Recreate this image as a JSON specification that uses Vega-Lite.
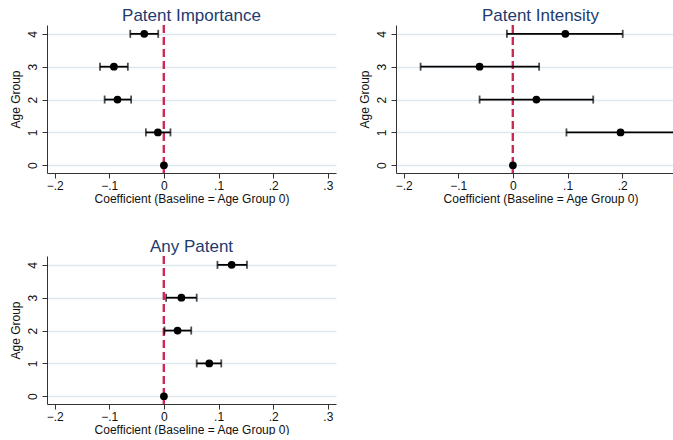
{
  "$schema": "https://vega.github.io/schema/vega-lite/v6.json",
  "background": "white",
  "padding": {"left": 9, "top": 7, "right": 0, "bottom": 0},
  "data": {"values": [
    {"panel": "Patent Importance", "group": 0, "coef": 0, "lo": 0, "hi": 0},
    {"panel": "Patent Importance", "group": 1, "coef": -0.011, "lo": -0.033, "hi": 0.012},
    {"panel": "Patent Importance", "group": 2, "coef": -0.085, "lo": -0.1085, "hi": -0.060},
    {"panel": "Patent Importance", "group": 3, "coef": -0.0915, "lo": -0.117, "hi": -0.066},
    {"panel": "Patent Importance", "group": 4, "coef": -0.036, "lo": -0.0616, "hi": -0.0104},
    {"panel": "Patent Intensity", "group": 0, "coef": 0, "lo": 0, "hi": 0},
    {"panel": "Patent Intensity", "group": 1, "coef": 0.197, "lo": 0.098, "hi": 0.296},
    {"panel": "Patent Intensity", "group": 2, "coef": 0.043, "lo": -0.061, "hi": 0.147},
    {"panel": "Patent Intensity", "group": 3, "coef": -0.061, "lo": -0.169, "hi": 0.048},
    {"panel": "Patent Intensity", "group": 4, "coef": 0.096, "lo": -0.011, "hi": 0.201},
    {"panel": "Any Patent", "group": 0, "coef": 0, "lo": 0, "hi": 0},
    {"panel": "Any Patent", "group": 1, "coef": 0.083, "lo": 0.060, "hi": 0.105},
    {"panel": "Any Patent", "group": 2, "coef": 0.025, "lo": 0.001, "hi": 0.050},
    {"panel": "Any Patent", "group": 3, "coef": 0.032, "lo": 0.004, "hi": 0.060},
    {"panel": "Any Patent", "group": 4, "coef": 0.124, "lo": 0.098, "hi": 0.152}
  ]},
  "config": {
    "font": "Liberation Sans",
    "view": {"stroke": null},
    "title": {"fontSize": 17, "fontWeight": "normal", "color": "#1e3a6e", "offset": -1, "font": "Liberation Sans"},
    "axis": {
      "domainColor": "#333333", "tickColor": "#333333", "labelColor": "#111111", "titleColor": "#111111",
      "labelFontSize": 12, "titleFontSize": 12, "titleFontWeight": "normal", "tickSize": 5,
      "labelFont": "Liberation Sans", "titleFont": "Liberation Sans", "labelOverlap": false
    },
    "axisX": {"values": [-0.2, -0.1, 0, 0.1, 0.2, 0.3], "grid": false, "titlePadding": 2, "labelPadding": 2,
              "labelExpr": "datum.value == 0 ? '0' : replace(format(datum.value, '.1f'), '0.', '.')"},
    "axisY": {"values": [0, 1, 2, 3, 4], "grid": true, "gridColor": "#dde8ee", "gridWidth": 1.5, "labelAngle": 270, "labelOverlap": false, "labelAlign": "center", "labelBaseline": "bottom", "labelPadding": 3, "titlePadding": 4}
  },
  "columns": 2,
  "spacing": {"row": 83, "column": 60},
  "bounds": "flush",
  "concat": [
    {
      "title": "Patent Importance",
      "width": 289, "height": 148,
      "transform": [{"filter": "datum.panel === 'Patent Importance'"}],
      "layer": [
        {"mark": {"type": "rule", "color": "#cc2a55", "strokeDash": [8, 4], "strokeWidth": 2}, "encoding": {"x": {"datum": 0, "type": "quantitative"}}},
        {"transform": [{"filter": "datum.group > 0"}],
         "mark": {"type": "errorbar", "ticks": {"size": 8}, "color": "black", "thickness": 1.8},
         "encoding": {"x": {"field": "lo", "type": "quantitative", "title": "Coefficient (Baseline = Age Group 0)", "axis": {"values": [-0.2, -0.1, 0, 0.1, 0.2, 0.3]}}, "x2": {"field": "hi"},
                      "y": {"field": "group", "type": "quantitative", "title": "Age Group", "axis": {"values": [0, 1, 2, 3, 4], "labelOverlap": false}}}},
        {"mark": {"type": "point", "filled": true, "color": "black", "size": 60, "opacity": 1},
         "encoding": {
           "x": {"field": "coef", "type": "quantitative", "scale": {"domain": [-0.214, 0.315], "nice": false, "zero": false},
                 "title": "Coefficient (Baseline = Age Group 0)", "axis": {"values": [-0.2, -0.1, 0, 0.1, 0.2, 0.3]}},
           "y": {"field": "group", "type": "quantitative", "scale": {"domain": [-0.236, 4.27], "nice": false, "zero": false},
                 "title": "Age Group", "axis": {"values": [0, 1, 2, 3, 4], "labelOverlap": false}}
         }}
      ]
    },
    {
      "title": "Patent Intensity",
      "width": 289, "height": 148,
      "transform": [{"filter": "datum.panel === 'Patent Intensity'"}],
      "layer": [
        {"mark": {"type": "rule", "color": "#cc2a55", "strokeDash": [8, 4], "strokeWidth": 2}, "encoding": {"x": {"datum": 0, "type": "quantitative"}}},
        {"transform": [{"filter": "datum.group > 0"}],
         "mark": {"type": "errorbar", "ticks": {"size": 8}, "color": "black", "thickness": 1.8},
         "encoding": {"x": {"field": "lo", "type": "quantitative", "title": "Coefficient (Baseline = Age Group 0)", "axis": {"values": [-0.2, -0.1, 0, 0.1, 0.2, 0.3]}}, "x2": {"field": "hi"},
                      "y": {"field": "group", "type": "quantitative", "title": "Age Group", "axis": {"values": [0, 1, 2, 3, 4], "labelOverlap": false}}}},
        {"mark": {"type": "point", "filled": true, "color": "black", "size": 60, "opacity": 1},
         "encoding": {
           "x": {"field": "coef", "type": "quantitative", "scale": {"domain": [-0.214, 0.315], "nice": false, "zero": false},
                 "title": "Coefficient (Baseline = Age Group 0)", "axis": {"values": [-0.2, -0.1, 0, 0.1, 0.2, 0.3]}},
           "y": {"field": "group", "type": "quantitative", "scale": {"domain": [-0.236, 4.27], "nice": false, "zero": false},
                 "title": "Age Group", "axis": {"values": [0, 1, 2, 3, 4], "labelOverlap": false}}
         }}
      ]
    },
    {
      "title": "Any Patent",
      "width": 289, "height": 148,
      "transform": [{"filter": "datum.panel === 'Any Patent'"}],
      "layer": [
        {"mark": {"type": "rule", "color": "#cc2a55", "strokeDash": [8, 4], "strokeWidth": 2}, "encoding": {"x": {"datum": 0, "type": "quantitative"}}},
        {"transform": [{"filter": "datum.group > 0"}],
         "mark": {"type": "errorbar", "ticks": {"size": 8}, "color": "black", "thickness": 1.8},
         "encoding": {"x": {"field": "lo", "type": "quantitative", "title": "Coefficient (Baseline = Age Group 0)", "axis": {"values": [-0.2, -0.1, 0, 0.1, 0.2, 0.3]}}, "x2": {"field": "hi"},
                      "y": {"field": "group", "type": "quantitative", "title": "Age Group", "axis": {"values": [0, 1, 2, 3, 4], "labelOverlap": false}}}},
        {"mark": {"type": "point", "filled": true, "color": "black", "size": 60, "opacity": 1},
         "encoding": {
           "x": {"field": "coef", "type": "quantitative", "scale": {"domain": [-0.214, 0.315], "nice": false, "zero": false},
                 "title": "Coefficient (Baseline = Age Group 0)", "axis": {"values": [-0.2, -0.1, 0, 0.1, 0.2, 0.3]}},
           "y": {"field": "group", "type": "quantitative", "scale": {"domain": [-0.236, 4.27], "nice": false, "zero": false},
                 "title": "Age Group", "axis": {"values": [0, 1, 2, 3, 4], "labelOverlap": false}}
         }}
      ]
    }
  ]
}
